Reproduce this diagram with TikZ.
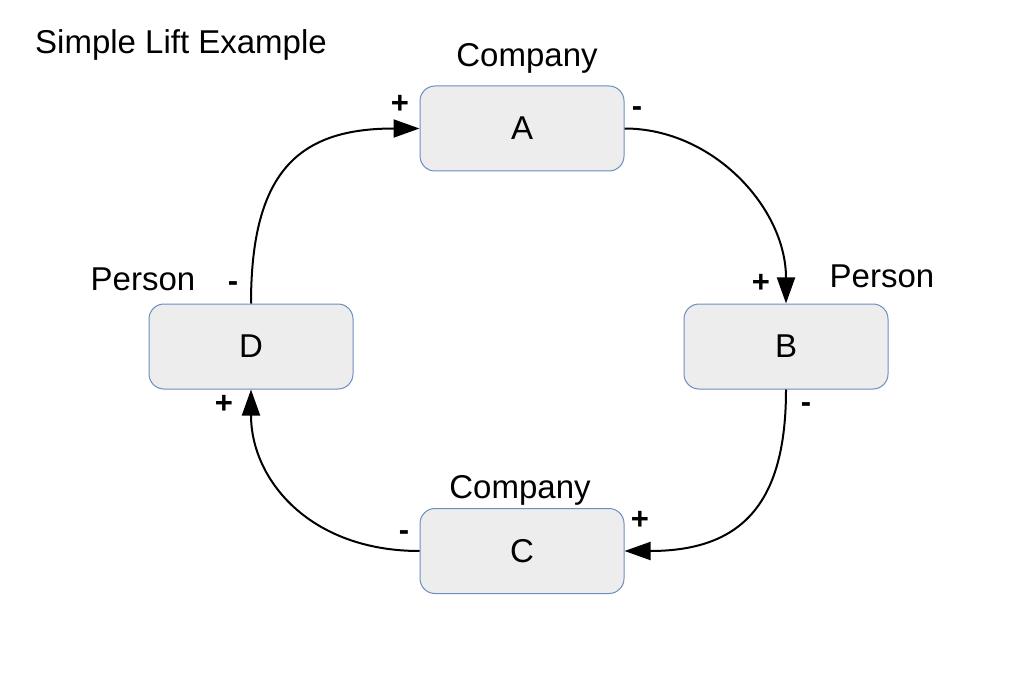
\documentclass[tikz,border=0pt]{standalone}
\usepackage{fontspec}
\setmainfont{Liberation Sans}
\usetikzlibrary{arrows.meta}
\definecolor{boxfill}{HTML}{EDEDED}
\definecolor{boxline}{HTML}{6C8EBF}
\begin{document}
\begin{tikzpicture}[x=1pt,y=-1pt,
  box/.style={draw=boxline,fill=boxfill,rounded corners=15pt,line width=1pt,minimum width=204pt,minimum height=85pt,inner sep=0pt,font=\fontsize{33}{38}\selectfont},
  lbl/.style={font=\fontsize{33}{38}\selectfont,inner sep=0pt},
  sgn/.style={font=\fontsize{31}{34}\selectfont\bfseries,inner sep=0pt},
  link/.style={line width=2pt,-{Triangle[length=26pt,width=18pt]}}]
\useasboundingbox (0,0) rectangle (1024,684);
\node[box] (A) at (522,128.5) {A};
\node[box] (B) at (786,346.5) {B};
\node[box] (C) at (522,551) {C};
\node[box] (D) at (251,346.5) {D};
\node[lbl] (title) at (181,45) {Simple Lift Example};
\node[lbl] (lA) at (527,58) {Company};
\node[lbl] (lB) at (882,276) {Person};
\node[lbl] (lC) at (520,490) {Company};
\node[lbl] (lD) at (143,279) {Person};
\node[sgn] (sA1) at (400,104) {+};
\node[sgn] (sA2) at (637,112) {-};
\node[sgn] (sB1) at (761,283) {+};
\node[sgn] (sB2) at (806,408) {-};
\node[sgn] (sC1) at (640,520) {+};
\node[sgn] (sC2) at (404,536) {-};
\node[sgn] (sD1) at (224,404) {+};
\node[sgn] (sD2) at (233,287) {-};
\draw[link] (A.east) .. controls (713,128.5) and (786,208) .. (B.north);
\draw[link] (B.south) .. controls (786,500) and (745,551) .. (C.east);
\draw[link] (C.west) .. controls (310,551) and (251,480) .. (D.south);
\draw[link] (D.north) .. controls (251,170) and (300,128.5) .. (A.west);
\end{tikzpicture}
\end{document}
